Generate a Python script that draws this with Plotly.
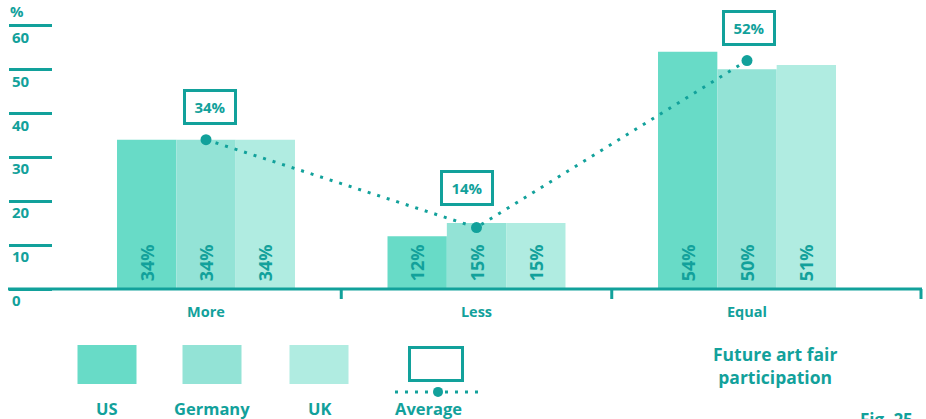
import plotly.graph_objects as go

# ---------------- data ----------------
categories = ["More", "Less", "Equal"]
series_names = ["US", "Germany", "UK"]
us = [34, 12, 54]
germany = [34, 15, 50]
uk = [34, 15, 51]
average = [34, 14, 52]
average_name = "Average"
y_ticks = [0, 10, 20, 30, 40, 50, 60]
y_unit = "%"
title_text = "Future art fair<br>participation"
fig_label = "Fig. 25"

# ---------------- style ----------------
W, H = 926, 419
TEAL = "#12a19b"
COLORS = ["#68dbc7", "#93e3d6", "#b0ece1"]
FONT = "Open Sans"
Y_MIN, Y_MAX = -5, 61
M_T, M_B = 20.6, 108


def py(p):
    return (H - M_B - p) / (H - M_T - M_B)


def px(p):
    return p / W


def bold(size):
    return dict(family=FONT, size=size, color=TEAL, weight="bold")


fig = go.Figure()

for name, vals, col in zip(series_names, [us, germany, uk], COLORS):
    fig.add_bar(
        x=categories, y=vals, name=name,
        marker=dict(color=col, line_width=0),
        text=[f"\u00a0{v}%" for v in vals], textposition="inside",
        insidetextanchor="start", textangle=-90,
        textfont=bold(18), constraintext="none", cliponaxis=False,
    )

fig.add_scatter(
    x=categories, y=average, name=average_name, mode="lines+markers",
    line=dict(color=TEAL, width=3, dash="3px,7px"),
    marker=dict(size=11, color=TEAL), cliponaxis=False,
)

# average value boxes
box_shift = [(4, 33), (-10, 40), (2, 33)]
for cat, v, (dx, dy) in zip(categories, average, box_shift):
    fig.add_annotation(
        x=cat, y=v, xref="x", yref="y", text=f"{v}%", showarrow=False,
        xshift=dx, yshift=dy, width=42, height=24, borderpad=3,
        borderwidth=3, bordercolor=TEAL, bgcolor="white", font=bold(15),
    )

shapes = []
# baseline
shapes.append(dict(type="line", xref="paper", yref="y", x0=px(8), x1=px(922), y0=0, y1=0,
                   line=dict(color=TEAL, width=3)))
# category boundary ticks
for b in [0.5, 1.5]:
    shapes.append(dict(type="line", xref="x", yref="paper", x0=b, x1=b, y0=py(289), y1=py(299),
                       line=dict(color=TEAL, width=3)))
shapes.append(dict(type="line", xref="paper", yref="paper", x0=px(921), x1=px(921),
                   y0=py(289), y1=py(299), line=dict(color=TEAL, width=3)))

# custom legend
leg_x = [107, 212, 319, 436]
for i, (name, col) in enumerate(zip(series_names, COLORS)):
    cx = leg_x[i]
    shapes.append(dict(type="rect", xref="paper", yref="paper", x0=px(cx - 29.5), x1=px(cx + 29.5),
                       y0=py(384), y1=py(345), fillcolor=col, line_width=0))
cx = leg_x[3]
shapes.append(dict(type="rect", xref="paper", yref="paper", x0=px(cx - 26.5), x1=px(cx + 26.5),
                   y0=py(380.5), y1=py(347.5), fillcolor="white", line=dict(color=TEAL, width=3)))
shapes.append(dict(type="line", xref="paper", yref="paper", x0=px(395), x1=px(484),
                   y0=py(392), y1=py(392), line=dict(color=TEAL, width=3, dash="3px,7px")))
shapes.append(dict(type="circle", xref="paper", yref="paper", x0=px(433), x1=px(443),
                   y0=py(397), y1=py(387), fillcolor=TEAL, line_width=0))

label_x = [107, 212, 319, 428]
for name, lx in zip(series_names + [average_name], label_x):
    fig.add_annotation(x=px(lx), y=py(409), xref="paper", yref="paper", text=name,
                       showarrow=False, xanchor="center", yanchor="middle", font=bold(16.5))

fig.add_annotation(x=px(8), y=py(11), xref="paper", yref="paper", text=y_unit, showarrow=False,
                   xanchor="left", yanchor="middle", font=bold(15))
fig.add_annotation(x=px(775), y=py(366), xref="paper", yref="paper", text=title_text,
                   showarrow=False, xanchor="center", yanchor="middle", font=bold(17.5))
fig.add_annotation(x=px(858), y=py(406), xref="paper", yref="paper", text=fig_label,
                   showarrow=False, xanchor="left", yanchor="top", font=bold(17))

x_first, x_step = 206, 270.5
fig.update_layout(
    width=W, height=H, margin=dict(l=0, r=0, t=M_T, b=M_B, pad=0),
    paper_bgcolor="white", plot_bgcolor="white", showlegend=False,
    barmode="group", bargap=0.342, bargroupgap=0,
    shapes=shapes,
    xaxis=dict(type="category", range=[-x_first / x_step, (W - x_first) / x_step],
               anchor="free", position=(0 - Y_MIN) / (Y_MAX - Y_MIN),
               showline=False, showgrid=False, zeroline=False, ticks="",
               ticklabelstandoff=12, tickfont=bold(14.5)),
    yaxis=dict(range=[Y_MIN, Y_MAX], anchor="free", position=px(8), side="left",
               tickvals=y_ticks, ticks="inside", ticklen=43, tickwidth=3, tickcolor=TEAL,
               ticklabelposition="inside bottom", showline=False, showgrid=False,
               zeroline=False, tickfont=bold(15)),
)

fig.write_html("out.html", post_script="document.body.style.margin='0';",
               config={"displayModeBar": False})
